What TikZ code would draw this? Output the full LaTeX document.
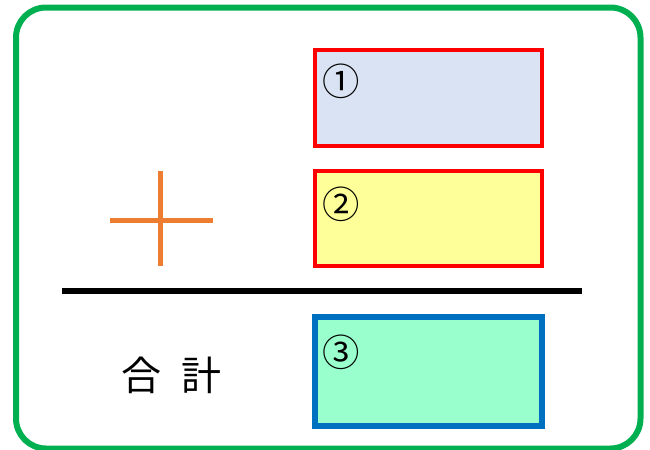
\documentclass[tikz,border=0pt]{standalone}
\usepackage{fontspec}
\newfontfamily\jp{Noto Sans CJK JP}
\definecolor{frameG}{HTML}{00B050}
\definecolor{plusO}{HTML}{ED7D31}
\definecolor{fillA}{HTML}{DAE3F3}
\definecolor{fillB}{HTML}{FFFF99}
\definecolor{fillC}{HTML}{99FFCC}
\definecolor{edgeC}{HTML}{0070C0}
\begin{document}
\begin{tikzpicture}[x=0.75pt,y=-0.75pt,
  frame/.style={draw=frameG,line width=4.5pt,rounded corners=22.5pt},
  box/.style={rectangle,inner sep=0pt,minimum width={227*0.75pt}},
  redbox/.style={box,draw=red,line width=3pt},
  bluebox/.style={box,draw=edgeC,line width=4.5pt},
  num/.style={inner sep=0pt,anchor=west,font=\jp\fontsize{28pt}{28pt}\selectfont},
  plusline/.style={draw=plusO,line width=3.75pt},
  sumline/.style={draw=black,line width=4.5pt}]
\useasboundingbox (0,0) rectangle (650,450);
\begin{scope}
\clip (0,0) rectangle (650,450);
\draw[frame] (16,7.5) rectangle (640.5,448.5);
\end{scope}
\node[redbox,fill=fillA,minimum height={95.5*0.75pt}] (b1) at (428.6,97.8) {};
\node[redbox,fill=fillB,minimum height={95*0.75pt}] (b2) at (428.6,218.5) {};
\node[bluebox,fill=fillC,minimum width={226.5*0.75pt},minimum height={109*0.75pt}] (b3) at (428.4,371.4) {};
\node[num] (n1) at (322,81.5) {①};
\node[num] (n2) at (322,204) {②};
\node[num] (n3) at (322,352.5) {③};
\coordinate (pl) at (110,220.5);
\coordinate (pr) at (213,220.5);
\coordinate (pt) at (160,171);
\coordinate (pb) at (160,266);
\draw[plusline] (pl) -- (pr);
\draw[plusline] (pt) -- (pb);
\coordinate (sl) at (62,291);
\coordinate (sr) at (582,291);
\draw[sumline] (sl) -- (sr);
\node[inner sep=0pt,font=\jp\fontsize{30pt}{30pt}\selectfont] (sum) at (171,375) {合\hspace{0.5em}計};
\end{tikzpicture}
\end{document}
